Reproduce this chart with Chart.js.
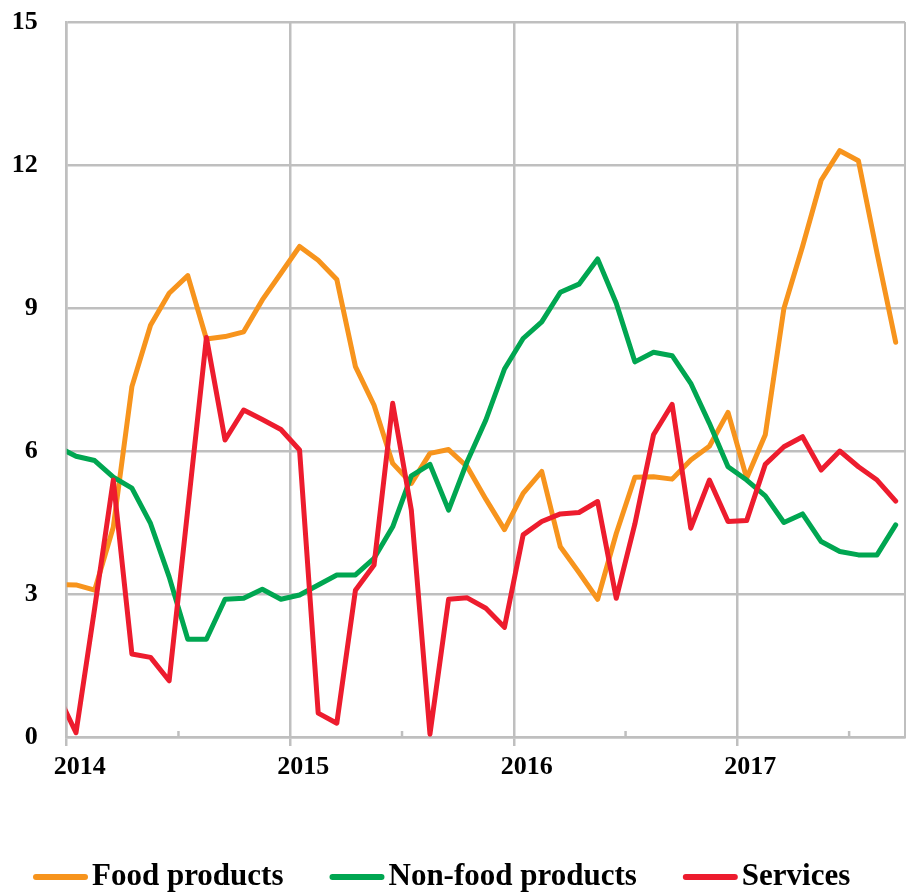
<!DOCTYPE html>
<html>
<head>
<meta charset="utf-8">
<title>Inflation by component</title>
<script src="https://cdn.jsdelivr.net/npm/chart.js@4.4.0/dist/chart.umd.min.js"></script>
<style>
  html, body { margin: 0; padding: 0; background: #ffffff; }
  canvas { display: block; }
</style>
</head>
<body>
<canvas id="chart" width="906" height="894"></canvas>
<script>
// Monthly observations (year-month), first entry only feeds the segment entering the axis
const months = [
  '2013-12',
  '2014-01','2014-02','2014-03','2014-04','2014-05','2014-06','2014-07','2014-08','2014-09','2014-10','2014-11','2014-12',
  '2015-01','2015-02','2015-03','2015-04','2015-05','2015-06','2015-07','2015-08','2015-09','2015-10','2015-11','2015-12',
  '2016-01','2016-02','2016-03','2016-04','2016-05','2016-06','2016-07','2016-08','2016-09','2016-10','2016-11','2016-12',
  '2017-01','2017-02','2017-03','2017-04','2017-05','2017-06','2017-07','2017-08','2017-09'
];

const foodProducts = [
  3.20,
  3.19, 3.08, 4.40, 7.35, 8.64, 9.31, 9.68, 8.35, 8.40, 8.50, 9.17, 9.73,
  10.29, 10.00, 9.60, 7.77, 6.96, 5.74, 5.32, 5.95, 6.03, 5.67, 4.99, 4.35,
  5.11, 5.57, 3.99, 3.45, 2.89, 4.27, 5.45, 5.46, 5.41, 5.81, 6.10, 6.81,
  5.43, 6.34, 8.99, 10.29, 11.68, 12.30, 12.09, 10.15, 8.28
];

const nonFoodProducts = [
  6.09,
  5.89, 5.80, 5.45, 5.22, 4.48, 3.36, 2.05, 2.05, 2.89, 2.91, 3.10, 2.89,
  2.98, 3.19, 3.40, 3.40, 3.75, 4.41, 5.48, 5.72, 4.76, 5.78, 6.65, 7.72,
  8.36, 8.71, 9.33, 9.50, 10.03, 9.10, 7.87, 8.07, 8.00, 7.42, 6.58, 5.67,
  5.39, 5.06, 4.50, 4.68, 4.10, 3.89, 3.82, 3.82, 4.45
];

const services = [
  0.91,
  0.09, 2.70, 5.39, 1.74, 1.67, 1.18, 4.78, 8.38, 6.23, 6.86, 6.66, 6.45,
  6.02, 0.50, 0.29, 3.08, 3.61, 7.00, 4.76, 0.06, 2.89, 2.92, 2.70, 2.30,
  4.24, 4.52, 4.68, 4.71, 4.94, 2.91, 4.47, 6.34, 6.98, 4.38, 5.39, 4.52,
  4.54, 5.72, 6.09, 6.30, 5.60, 6.00, 5.67, 5.39, 4.95
];

const seriesNames = ['Food products', 'Non-food products', 'Services'];
const seriesColors = ['#F7941D', '#00A651', '#ED1C2E'];

const yearLabels = ['2014', '2015', '2016', '2017'];
const yTicks = [0, 3, 6, 9, 12, 15];

const FIRST_YEAR = 2014;
const AXIS_END = 45;               // months shown: Jan 2014 .. Sep 2017
const GRID = '#BFBFBF';
const FONT = "'Liberation Serif', 'Times New Roman', serif";

// month position on the x axis, centred inside its month
function monthPos(m) {
  const [y, mo] = m.split('-').map(Number);
  return (y - FIRST_YEAR) * 12 + (mo - 1) + 0.5;
}

function toPoints(values) {
  return values.map((v, i) => ({ x: monthPos(months[i]), y: v }));
}

// keep the plot area exactly where the layout padding puts it
function noScalePadding(scale) {
  scale.paddingTop = 0;
  scale.paddingBottom = 0;
  scale.paddingLeft = 0;
  scale.paddingRight = 0;
}

// short inner ticks at mid-year on the x axis
const midYearMarks = {
  id: 'midYearMarks',
  beforeDatasetsDraw(chart) {
    const { ctx, chartArea, scales } = chart;
    ctx.save();
    ctx.strokeStyle = GRID;
    ctx.lineWidth = 2.5;
    yearLabels.forEach((_, k) => {
      const x = scales.x.getPixelForValue(k * 12 + 6);
      if (x > chartArea.right) return;
      ctx.beginPath();
      ctx.moveTo(x, chartArea.bottom);
      ctx.lineTo(x, chartArea.bottom - 6);
      ctx.stroke();
    });
    ctx.restore();
  }
};

// legend row under the axis: coloured line sample followed by the series name
const lineLegend = {
  id: 'lineLegend',
  afterDraw(chart) {
    const { ctx } = chart;
    const y = 877;
    const sample = 55, gapText = 4, gapItem = 46;
    let x = 33;
    ctx.save();
    ctx.font = 'bold 31px ' + FONT;
    ctx.textBaseline = 'middle';
    ctx.textAlign = 'left';
    chart.data.datasets.forEach(ds => {
      ctx.strokeStyle = ds.borderColor;
      ctx.lineWidth = 6;
      ctx.lineCap = 'round';
      ctx.beginPath();
      ctx.moveTo(x + 3, y);
      ctx.lineTo(x + sample - 3, y);
      ctx.stroke();
      x += sample + gapText;
      ctx.fillStyle = '#000000';
      ctx.fillText(ds.label, x, y);
      x += ctx.measureText(ds.label).width + gapItem;
    });
    ctx.restore();
  }
};

const seriesData = [foodProducts, nonFoodProducts, services];

new Chart(document.getElementById('chart'), {
  type: 'line',
  data: {
    datasets: seriesData.map((vals, i) => ({
      label: seriesNames[i],
      data: toPoints(vals),
      borderColor: seriesColors[i],
      backgroundColor: seriesColors[i],
      borderWidth: 5,
      borderJoinStyle: 'round',
      borderCapStyle: 'round',
      pointRadius: 0,
      pointHoverRadius: 0,
      tension: 0,
      fill: false,
      order: 2 - i,
      clip: { left: 0, right: false, top: false, bottom: false }
    }))
  },
  options: {
    responsive: false,
    animation: false,
    devicePixelRatio: 1,
    layout: { padding: { left: 0, right: 1, top: 22, bottom: 107 } },
    plugins: {
      legend: { display: false },
      tooltip: { enabled: false }
    },
    scales: {
      x: {
        type: 'linear',
        min: 0,
        max: AXIS_END,
        afterBuildTicks(scale) {
          scale.ticks = yearLabels.map((_, k) => ({ value: k * 12 })).concat([{ value: AXIS_END }]);
        },
        afterFit(scale) {
          scale.height = 50;
          noScalePadding(scale);
        },
        ticks: {
          autoSkip: false,
          maxRotation: 0,
          padding: 6,
          labelOffset: 13,
          color: '#000000',
          font: { family: FONT, size: 26, weight: 'bold' },
          callback: (v) => (v % 12 === 0 && v < AXIS_END) ? yearLabels[v / 12] : ''
        },
        grid: {
          color: GRID,
          lineWidth: 2.5,
          drawTicks: true,
          tickLength: 9,
          tickColor: (ctx) => (ctx.tick && ctx.tick.value === AXIS_END) ? 'rgba(0,0,0,0)' : GRID
        },
        border: { display: true, color: GRID, width: 2.5 }
      },
      y: {
        min: 0,
        max: 15,
        afterBuildTicks(scale) {
          scale.ticks = yTicks.map(v => ({ value: v }));
        },
        afterFit(scale) {
          scale.width = 66.7;
          noScalePadding(scale);
        },
        ticks: {
          padding: 29,
          color: '#000000',
          font: { family: FONT, size: 26, weight: 'bold' }
        },
        grid: { color: GRID, lineWidth: 2.5, drawTicks: false },
        border: { display: true, color: GRID, width: 2.5 }
      }
    }
  },
  plugins: [midYearMarks, lineLegend]
});
</script>
</body>
</html>
